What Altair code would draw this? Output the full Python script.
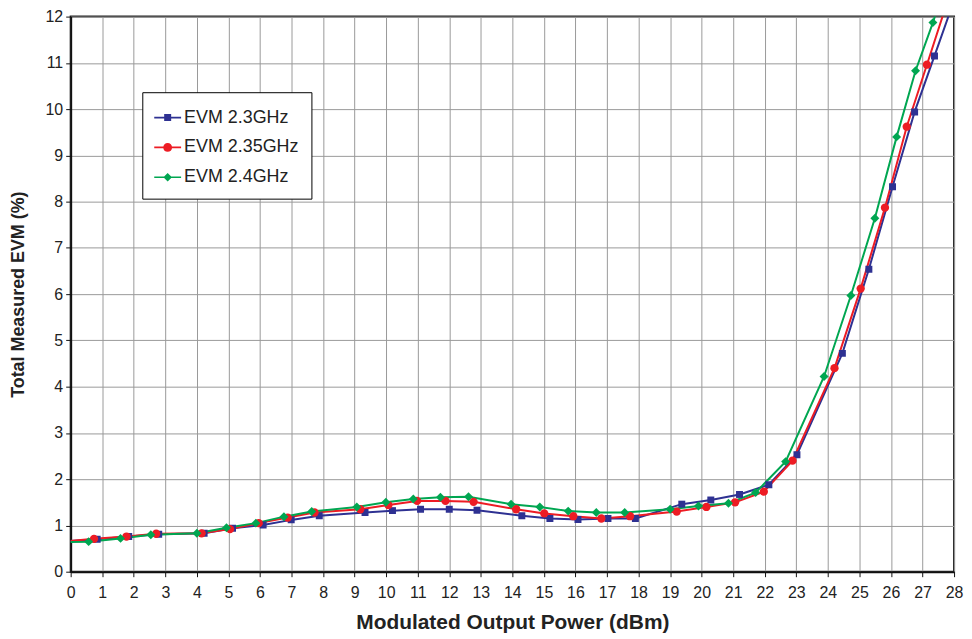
import altair as alt
import pandas as pd

series_names = ["EVM 2.3GHz", "EVM 2.35GHz", "EVM 2.4GHz"]
series_colors = ["#2E3192", "#ED1C24", "#00A651"]

blue_x = [-0.3, 0.84, 1.84, 2.79, 4.23, 5.13, 6.10, 6.99, 7.88, 9.33, 10.20, 11.09, 12.00, 12.88,
          14.30, 15.19, 16.08, 17.03, 17.90, 19.37, 20.29, 21.20, 22.13, 23.02, 24.46, 25.30,
          26.05, 26.75, 27.38, 28.0]
blue_y = [0.65, 0.70, 0.76, 0.81, 0.83, 0.94, 1.01, 1.12, 1.21, 1.28, 1.32, 1.35, 1.35, 1.33,
          1.21, 1.15, 1.13, 1.15, 1.15, 1.46, 1.55, 1.67, 1.88, 2.53, 4.72, 6.54,
          8.32, 9.94, 11.15, 12.35]

red_x = [-0.3, 0.74, 1.77, 2.71, 4.15, 5.05, 5.96, 6.88, 7.73, 9.18, 10.07, 10.98, 11.88, 12.77,
         14.12, 15.01, 15.93, 16.82, 17.73, 19.21, 20.15, 21.06, 21.97, 22.88, 24.21, 25.04,
         25.81, 26.50, 27.14, 27.8]
red_y = [0.65, 0.71, 0.76, 0.82, 0.83, 0.92, 1.05, 1.17, 1.28, 1.35, 1.44, 1.53, 1.53, 1.51,
         1.35, 1.26, 1.20, 1.15, 1.20, 1.30, 1.40, 1.50, 1.73, 2.40, 4.40, 6.12,
         7.87, 9.62, 10.96, 12.35]

green_x = [-0.3, 0.57, 1.58, 2.54, 4.00, 4.94, 5.87, 6.76, 7.64, 9.07, 9.99, 10.86, 11.72, 12.61,
           13.96, 14.87, 15.77, 16.66, 17.56, 19.00, 19.90, 20.85, 21.71, 22.66, 23.88, 24.73,
           25.49, 26.18, 26.78, 27.33, 27.6]
green_y = [0.64, 0.65, 0.72, 0.80, 0.83, 0.95, 1.05, 1.19, 1.30, 1.40, 1.50, 1.57, 1.61, 1.62,
           1.46, 1.40, 1.31, 1.28, 1.28, 1.35, 1.42, 1.48, 1.71, 2.38, 4.22, 5.97,
           7.64, 9.40, 10.83, 11.87, 12.45]

x_ticks = list(range(0, 29))
y_ticks = list(range(0, 13))

rows = []
for name, xs, ys in [(series_names[0], blue_x, blue_y),
                     (series_names[1], red_x, red_y),
                     (series_names[2], green_x, green_y)]:
    for i, (xv, yv) in enumerate(zip(xs, ys)):
        rows.append({"series": name, "power": xv, "evm": yv, "order": i})
df = pd.DataFrame(rows)

FONT = "Liberation Sans"

xenc = alt.X("power:Q",
             scale=alt.Scale(domain=[0, 28], nice=False, zero=False),
             axis=alt.Axis(values=x_ticks, title="Modulated Output Power (dBm)",
                           labelAngle=0, labelFlush=False, labelPadding=8,
                           titlePadding=11, titleFontSize=21))
yenc = alt.Y("evm:Q",
             scale=alt.Scale(domain=[0, 12], nice=False),
             axis=alt.Axis(values=y_ticks, title="Total Measured EVM (%)",
                           labelPadding=3, titlePadding=18, titleFontSize=18))

marker_specs = [("square", 49), ("circle", 70), ("diamond", 81)]
layers = []
for name, col in zip(series_names, series_colors):
    layers.append(
        alt.Chart(df).transform_filter(alt.datum.series == name)
        .mark_line(strokeWidth=2, clip=True, color=col)
        .encode(x=xenc, y=yenc, order="order:Q")
    )
for name, col, (shp, sz) in zip(series_names, series_colors, marker_specs):
    layers.append(
        alt.Chart(df).transform_filter(alt.datum.series == name)
        .mark_point(shape=shp, size=sz, filled=True, opacity=1, clip=True, color=col)
        .encode(x=xenc, y=yenc)
    )

legend_paths = [
    "M-1,-0.06H1V0.06H-1Z M-0.26,-0.26H0.26V0.26H-0.26Z",
    "M-1,-0.06H1V0.06H-1Z M0.33,0A0.33,0.33 0 1,1 -0.33,0A0.33,0.33 0 1,1 0.33,0Z",
    "M-1,-0.06H1V0.06H-1Z M0,-0.32L0.32,0L0,0.32L-0.32,0Z",
]
legend_df = pd.DataFrame({"series": series_names})
ghost = alt.Chart(legend_df).mark_point(filled=True, opacity=1, clip=True, size=729).encode(
    x=alt.value(-400), y=alt.value(-400),
    color=alt.Color("series:N", scale=alt.Scale(domain=series_names, range=series_colors),
                    legend=alt.Legend(title=None)),
    shape=alt.Shape("series:N", scale=alt.Scale(domain=series_names, range=legend_paths),
                    legend=alt.Legend(title=None)),
)
layers.append(ghost)

chart = alt.layer(*layers).properties(
    width=888, height=558,
    autosize=alt.AutoSizeParams(type="none"),
    padding={"left": 63, "top": 7, "right": 10, "bottom": 66},
).configure_axis(
    labelFont=FONT, labelFontSize=16, labelColor="#222",
    titleFont=FONT, titleFontWeight="bold", titleColor="#222",
    domainColor="#111", domainWidth=2,
    tickColor="#111", tickSize=5, tickWidth=1,
    gridColor="#999999", gridWidth=1, gridOpacity=1,
).configure_view(
    stroke="#222", strokeWidth=2,
).configure_legend(
    orient="none", legendX=72, legendY=76,
    fillColor="white", strokeColor="black",
    padding=12, rowPadding=7, labelOffset=3, symbolOffset=0,
    labelFont=FONT, labelFontSize=18, labelColor="#222",
    symbolSize=729, symbolStrokeWidth=0, symbolOpacity=1,
)

chart.save("out.html", embed_options={"renderer": "svg", "actions": False})
